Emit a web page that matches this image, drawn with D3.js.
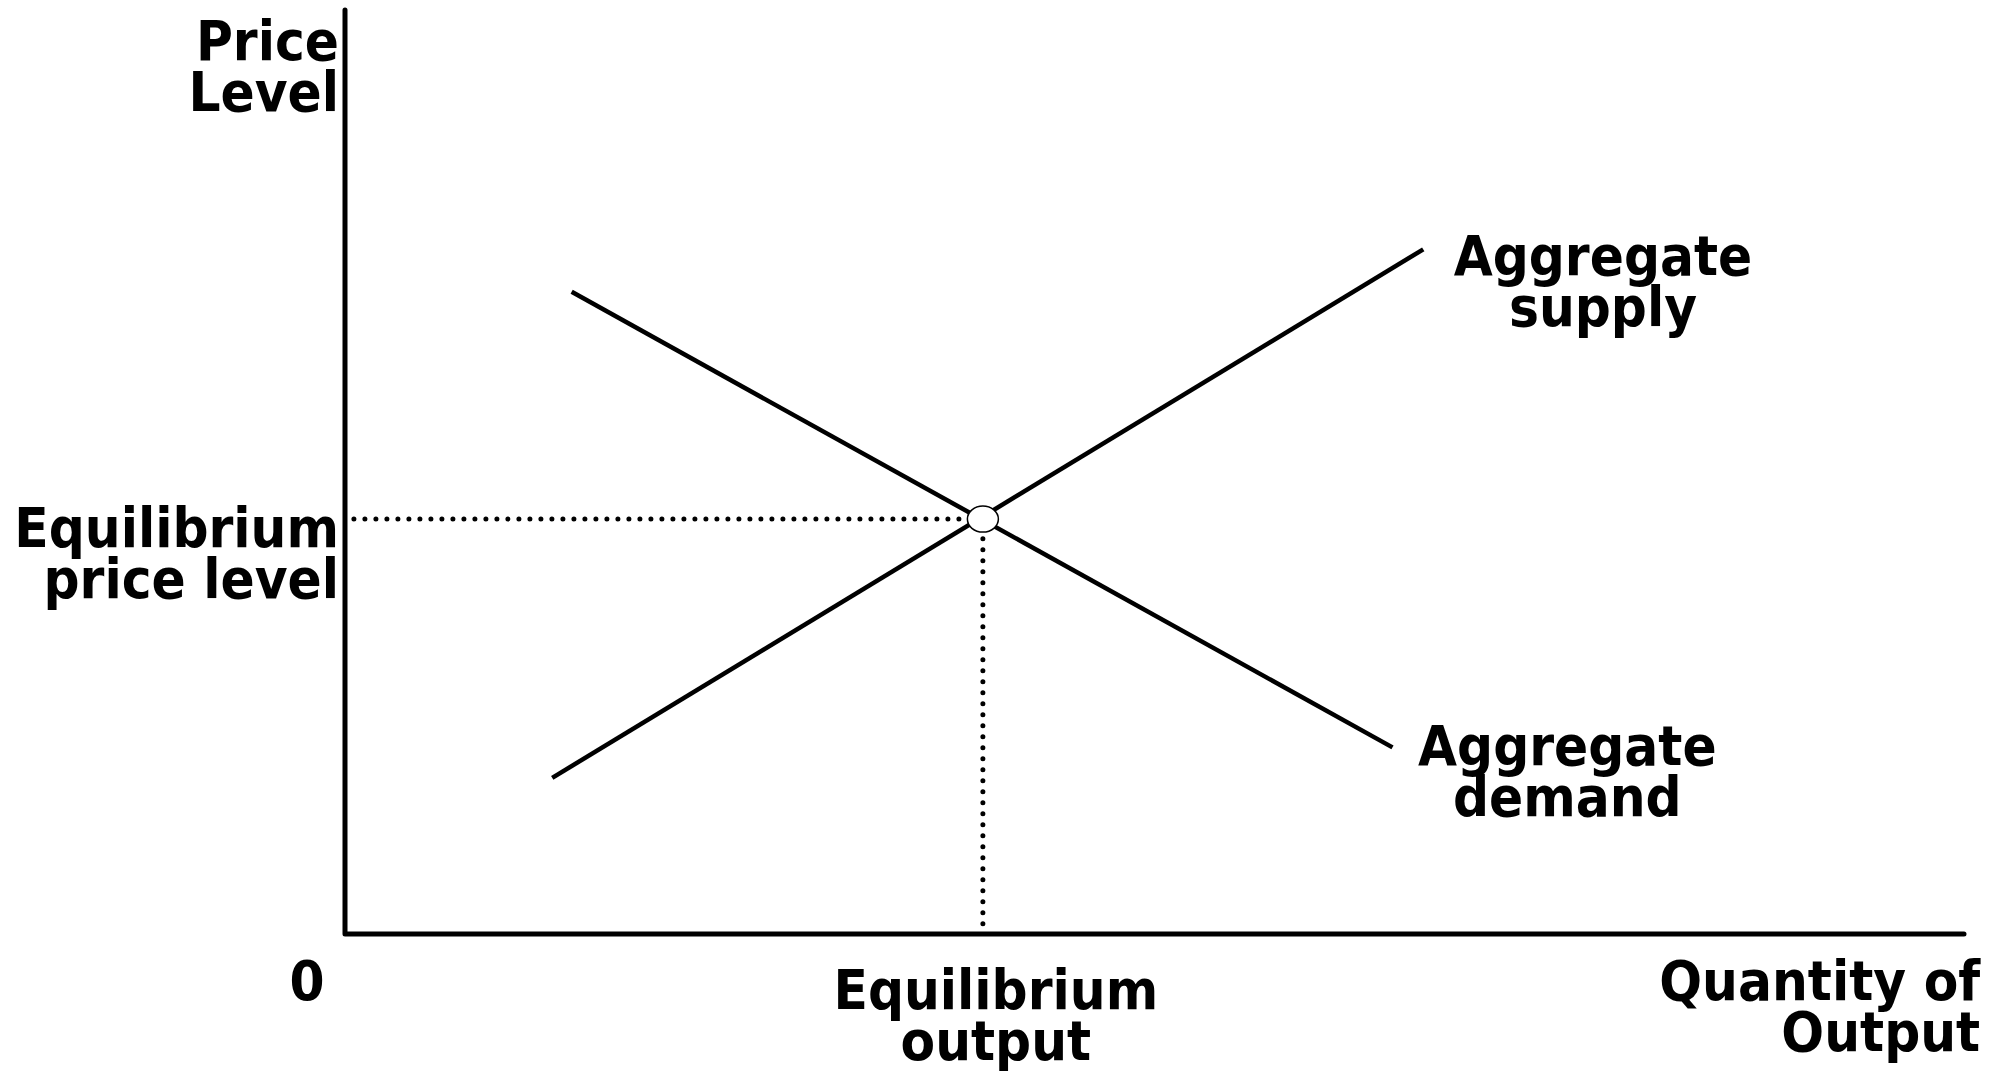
<!DOCTYPE html>
<html>
<head>
<meta charset="utf-8">
<script src="https://cdn.jsdelivr.net/npm/d3@7"></script>
<style>
  html, body { margin: 0; padding: 0; background: #fff; }
  svg { display: block; }
  text { font-family: "DejaVu Sans Condensed", "DejaVu Sans", sans-serif; font-stretch: condensed; font-weight: bold; font-size: 56px; fill: #000; }
</style>
</head>
<body>
<svg id="chart" width="2006" height="1071"></svg>
<script>
// ---- data (in abstract chart units, 0..100) ----
const axisCorner = [[0, 100], [0, 0], [100, 0]];
const aggregateSupply = [[12.8, 16.9], [66.6, 74.1]];
const aggregateDemand = [[14.0, 69.5], [64.7, 20.2]];
const equilibrium = [39.4, 44.9];
const curveLabels = [
  { lines: ["Aggregate", "supply"], x: 77.7, y: 71.3 },
  { lines: ["Aggregate", "demand"], x: 75.5, y: 18.3 }
];
const yAxisLabels = [
  { lines: ["Price", "Level"], y: 94.6 },
  { lines: ["Equilibrium", "price level"], y: 41.9 }
];
const xAxisLabels = [
  { lines: ["Equilibrium", "output"], x: 40.2, anchor: "middle", base: 1009 },
  { lines: ["Quantity of", "Output"], x: 101.0, anchor: "end", base: 1000 }
];
const originLabel = "0";

// ---- scales ----
const x = d3.scaleLinear().domain([0, 100]).range([345, 1964]);
const y = d3.scaleLinear().domain([0, 100]).range([934, 10]);

const svg = d3.select("#chart");
const line = d3.line().x(d => x(d[0])).y(d => y(d[1]));

// dotted guide lines
svg.append("path")
  .attr("d", line([[0.55, equilibrium[1]], [equilibrium[0], equilibrium[1]]]))
  .attr("fill", "none").attr("stroke", "#000").attr("stroke-width", 5)
  .attr("stroke-linecap", "round").attr("stroke-dasharray", "0 11");
svg.append("path")
  .attr("d", line([[equilibrium[0], 1.1], [equilibrium[0], equilibrium[1]]]))
  .attr("fill", "none").attr("stroke", "#000").attr("stroke-width", 5)
  .attr("stroke-linecap", "round").attr("stroke-dasharray", "0 11");

// axes
svg.append("path")
  .attr("d", line(axisCorner))
  .attr("fill", "none").attr("stroke", "#000").attr("stroke-width", 5)
  .attr("stroke-linejoin", "round").attr("stroke-linecap", "round");

// curves
[aggregateSupply, aggregateDemand].forEach(c => {
  svg.append("path")
    .attr("d", line(c))
    .attr("fill", "none").attr("stroke", "#000").attr("stroke-width", 4.5);
});

// equilibrium point
svg.append("ellipse")
  .attr("cx", x(equilibrium[0])).attr("cy", y(equilibrium[1]))
  .attr("rx", 15.5).attr("ry", 13)
  .attr("fill", "#fff").attr("stroke", "#000").attr("stroke-width", 1.5);

const LH = 51;
function multiline(lines, px, py, anchor) {
  const t = svg.append("text").attr("text-anchor", anchor);
  lines.forEach((s, i) => {
    t.append("tspan").attr("x", px).attr("y", py + i * LH).text(s);
  });
}

yAxisLabels.forEach(l => multiline(l.lines, x(0) - 6, y(l.y), "end"));
curveLabels.forEach(l => multiline(l.lines, x(l.x), y(l.y), "middle"));
xAxisLabels.forEach(l => multiline(l.lines, x(l.x), l.base, l.anchor));
svg.append("text").attr("x", x(0) - 38).attr("y", 1000).attr("text-anchor", "middle").text(originLabel);
</script>
</body>
</html>
